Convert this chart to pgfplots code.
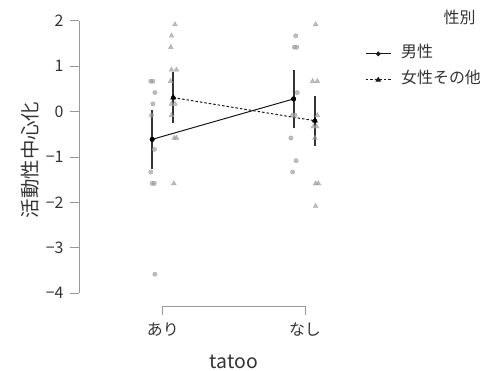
\documentclass[border=0pt]{standalone}
\usepackage{fontspec}
\setmainfont{Noto Sans CJK JP}
\usepackage{pgfplots}
\pgfplotsset{compat=1.18}
\definecolor{pt}{HTML}{9A9A9A}
\definecolor{ax}{HTML}{999999}
\definecolor{txt}{HTML}{333333}
\begin{document}
\begin{tikzpicture}[x=1bp,y=1bp]
\path[use as bounding box] (0,0) rectangle (487,370);
\begin{axis}[
  at={(79bp,64bp)}, anchor=south west,
  scale only axis, width=254.4bp, height=289.7bp,
  xmin=0.41, xmax=2.2, ymin=-4.28, ymax=2.1,
  axis line style={draw=none},
  clip=false,
  xtick={1,2}, xticklabels={あり,なし},
  ytick={-4,-3,-2,-1,0,1,2}, yticklabels={−4,−3,−2,−1,0,1,2},
  xtick pos=bottom, ytick pos=left,
  tick align=outside, major tick length=9bp,
  tick style={color=ax, line width=0.8bp},
  ticklabel style={font=\fontsize{16}{19}\selectfont, text=txt},
  xticklabel style={yshift=-4bp},
  yticklabel style={xshift=-3bp},
  xlabel={tatoo}, ylabel={活動性中心化},
  label style={font=\fontsize{19.5}{22}\selectfont, text=txt},
  xlabel style={at={(axis description cs:0.609,-0.193)}, anchor=center},
  ylabel style={at={(axis description cs:-0.1926,0.504)}, anchor=center},
  legend style={at={(rel axis cs:1,1)}, anchor=north west, xshift=31.6bp, yshift=-27.4bp,
    draw=none, fill=none, inner sep=0pt, row sep=6bp,
    font=\fontsize{16}{19}\selectfont, text=txt,
    nodes={inner sep=2bp, text height=12bp, text depth=4bp}},
  legend cell align=left,
  legend image code/.code={\draw[#1] plot coordinates {(0bp,0bp) (12.5bp,0bp) (25bp,0bp)};},
  /tikz/every odd column/.append style={column sep=8bp},
]
% axis lines
\draw[ax, line width=0.8bp] (axis cs:0.41,-4) -- (axis cs:0.41,2);
\draw[ax, line width=0.8bp] (axis cs:1,-4.28) -- (axis cs:2,-4.28);

% raw points, male
\addplot[only marks, mark=*, mark size=2.2bp, mark options={fill=pt, draw=pt, opacity=0.65}, forget plot] coordinates {
 (0.915,0.67) (0.930,0.67) (0.944,0.42) (0.930,0.17) (0.920,-0.08) (0.940,-0.83)
 (0.915,-1.33) (0.925,-1.58) (0.940,-1.58) (0.944,-3.58)
 (1.935,1.67) (1.925,1.42) (1.942,1.42) (1.946,0.42) (1.913,-0.08) (1.930,-0.08)
 (1.901,-0.58) (1.937,-1.08) (1.913,-1.33)
};
% raw points, female/other
\addplot[only marks, mark=triangle*, mark size=2.8bp, mark options={fill=pt, draw=pt, opacity=0.65}, forget plot] coordinates {
 (1.085,1.92) (1.061,1.67) (1.056,1.42) (1.061,0.92) (1.096,0.92) (1.054,0.67)
 (1.061,0.17) (1.085,0.17) (1.061,-0.08) (1.080,-0.58) (1.096,-0.58) (1.077,-1.58)
 (2.075,1.92) (2.054,0.67) (2.087,0.67) (2.087,-0.08) (2.059,-0.33) (2.082,-0.33)
 (2.070,-0.58) (2.075,-1.58) (2.094,-1.58) (2.075,-2.08)
};
% error bars
\addplot[only marks, mark=none, forget plot,
  error bars/.cd, y dir=both, y explicit,
  error bar style={line width=2bp, black!80}, error mark=none]
  coordinates {
  (0.925,-0.61) +- (0,0.65)
  (1.920,0.28) +- (0,0.64)
  (1.073,0.31) +- (0,0.57)
  (2.070,-0.20) +- (0,0.55)
};
% means
\addplot[black!90, line width=1bp, mark=*, mark size=2bp, mark options={black}, forget plot] coordinates {(0.925,-0.61) (1.920,0.28)};
\addplot[black!90, line width=1bp, dash pattern=on 2.5bp off 2bp, mark=triangle*, mark size=2.5bp, mark options={solid,black}, forget plot] coordinates {(1.073,0.31) (2.070,-0.20)};

\addlegendimage{black!90, line width=1bp, mark=*, mark size=1.8bp, mark indices={2}}
\addlegendentry{男性}
\addlegendimage{black!90, line width=1bp, dash pattern=on 2.5bp off 2bp, mark=triangle*, mark size=2.3bp, mark indices={2}, mark options={solid}}
\addlegendentry{女性その他}
\end{axis}
\node[font=\fontsize{16}{19}\selectfont, text=txt, anchor=east] at (479,353) {性別};
\end{tikzpicture}
\end{document}
